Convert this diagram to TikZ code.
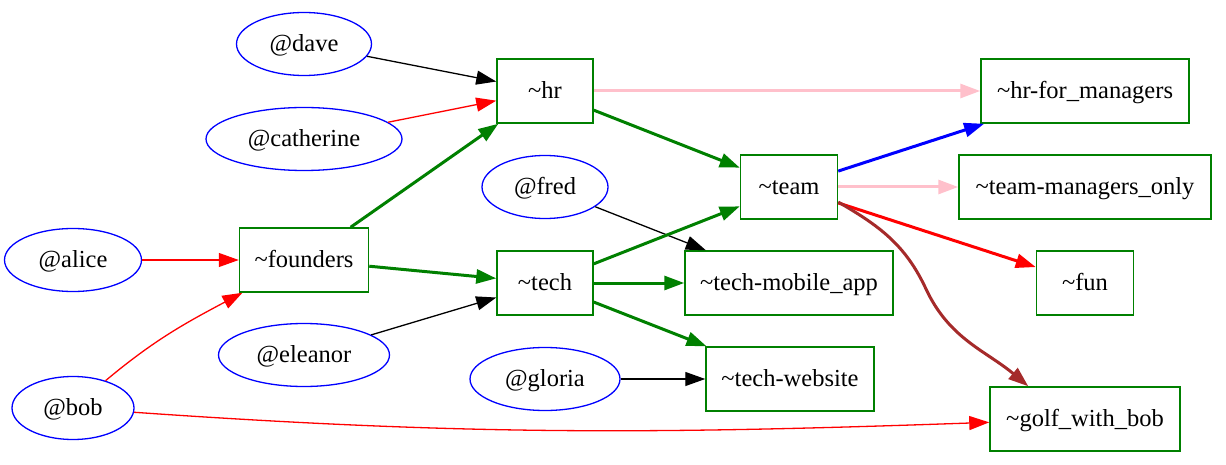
\documentclass[tikz,border=0pt]{standalone}
\usepackage{fontspec}
\setmainfont{Liberation Serif}
\usetikzlibrary{positioning, shapes.geometric, arrows.meta}

\definecolor{grgreen}{HTML}{008000}
\definecolor{grpink}{HTML}{FFC0CB}
\definecolor{grbrown}{HTML}{A52A2A}

\newcommand{\grp}[1]{\textasciitilde #1}

\begin{document}
\begin{tikzpicture}[x=1pt, y=1pt, >={Triangle[length=20pt,width=14pt]},
     font=\fontsize{24.5}{28}\selectfont,
     user/.style={draw=blue, ellipse, line width=1.3pt, minimum height=63pt, inner sep=0pt, text height=15pt, text depth=0pt},
     group/.style={draw=grgreen, rectangle, line width=1.5pt, minimum height=64pt, inner sep=0pt, text height=15pt, text depth=0pt},
     member/.style={->, line width=1.3pt},
     nest/.style={->, line width=3pt}]

  \useasboundingbox (0,0) rectangle (1226,464);

  \node[user, minimum width=135pt] (dave) at (304,420) {@dave};
  \node[user, minimum width=196pt] (catherine) at (304,325) {@catherine};
  \node[user, minimum width=137pt] (alice) at (73,204) {@alice};
  \node[user, minimum width=122pt] (bob) at (73,56) {@bob};
  \node[user, minimum width=171pt] (eleanor) at (304,109) {@eleanor};
  \node[user, minimum width=126pt] (fred) at (545,277) {@fred};
  \node[user, minimum width=150pt] (gloria) at (545,85) {@gloria};

  \node[group, minimum width=96pt] (hr) at (545,373) {\grp{hr}};
  \node[group, minimum width=129pt] (founders) at (304,204) {\grp{founders}};
  \node[group, minimum width=96pt] (tech) at (545,181) {\grp{tech}};
  \node[group, minimum width=97pt] (team) at (789,277) {\grp{team}};
  \node[group, minimum width=208pt] (mobile) at (789,181) {\grp{tech-mobile\_app}};
  \node[group, minimum width=168pt] (website) at (790,85) {\grp{tech-website}};
  \node[group, minimum width=208pt] (hrmgr) at (1085,373) {\grp{hr-for\_managers}};
  \node[group, minimum width=252pt] (teammgr) at (1085,277) {\grp{team-managers\_only}};
  \node[group, minimum width=97pt] (fun) at (1085,181) {\grp{fun}};
  \node[group, minimum width=190pt] (golf) at (1085,45) {\grp{golf\_with\_bob}};

  \path[member]
   (dave) edge (hr)
   (eleanor) edge (tech)
   (fred) edge (mobile)
   (gloria) edge (website);
  \path[member, red]
   (catherine) edge (hr)
   (alice) edge (founders)
   (bob) edge[out=40, in=208] (founders)
   (bob) edge[out=-4, in=182] (golf);
  \path[nest, grgreen]
   (founders) edge (hr)
   (founders) edge (tech)
   (hr) edge (team)
   (tech) edge (team)
   (tech) edge (mobile)
   (tech) edge (website);
  \path[nest, grpink]
   (hr) edge (hrmgr)
   (team) edge (teammgr);
  \path[nest, blue] (team) edge (hrmgr);
  \path[nest, red] (team) edge (fun);
  \draw[nest, grbrown] (team.-17) to[out=-30, in=115] (926,175)
   to[out=-65, in=140] (golf.150);
\end{tikzpicture}
\end{document}
